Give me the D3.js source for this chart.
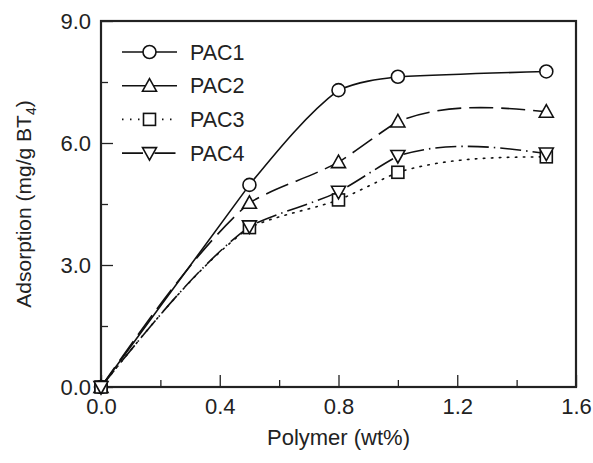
<!DOCTYPE html>
<html>
<head>
<meta charset="utf-8">
<script src="https://cdn.jsdelivr.net/npm/d3@7"></script>
<style>
  body { margin: 0; background: #fff; }
  text { font-family: "Liberation Sans", Arial, sans-serif; fill: #222; }
</style>
</head>
<body>
<div id="chart"></div>
<script>
var polymer = [0, 0.5, 0.8, 1.0, 1.5];
var pac1 = [0, 4.97, 7.3, 7.63, 7.76];
var pac2 = [0, 4.53, 5.53, 6.53, 6.77];
var pac3 = [0, 3.92, 4.6, 5.28, 5.66];
var pac4 = [0, 3.95, 4.8, 5.68, 5.74];
var names = ["PAC1", "PAC2", "PAC3", "PAC4"];
var xTicks = [0, 0.4, 0.8, 1.2, 1.6];
var yTicks = [0, 3, 6, 9];

var margin = {top: 21, right: 17, bottom: 76, left: 101},
  width = 593 - margin.left - margin.right,
  height = 463 - margin.top - margin.bottom;

var svg = d3.select("#chart")
.append("svg")
  .attr("width", 593)
  .attr("height", 463)
.append("g")
  .attr("transform", "translate(" + margin.left + "," + margin.top + ")");

var x = d3.scaleLinear().domain([0, 1.6]).range([0, width]);
var y = d3.scaleLinear().domain([0, 9]).range([height, 0]);

// natural cubic spline of y over x, curvature softened a bit (k)
function SplineX(context, k) { this._context = context; this._k = k; }
SplineX.prototype = {
  areaStart: function() { this._line = 0; },
  areaEnd: function() { this._line = NaN; },
  lineStart: function() { this._x = []; this._y = []; },
  point: function(px, py) { this._x.push(+px); this._y.push(+py); },
  lineEnd: function() {
    var X = this._x, Y = this._y, n = X.length - 1, c = this._context, k = this._k;
    if (n < 0) return;
    c.moveTo(X[0], Y[0]);
    if (n < 2) { if (n == 1) c.lineTo(X[1], Y[1]); return; }
    var h = [], M = new Array(n + 1).fill(0), i;
    for (i = 0; i < n; i++) h[i] = X[i + 1] - X[i];
    var a = [], b = [], cc = [], r = [];
    for (i = 1; i < n; i++) {
      a[i] = h[i - 1]; b[i] = 2 * (h[i - 1] + h[i]); cc[i] = h[i];
      r[i] = 6 * ((Y[i + 1] - Y[i]) / h[i] - (Y[i] - Y[i - 1]) / h[i - 1]);
    }
    for (i = 2; i < n; i++) {
      var m = a[i] / b[i - 1];
      b[i] -= m * cc[i - 1];
      r[i] -= m * r[i - 1];
    }
    M[n - 1] = r[n - 1] / b[n - 1];
    for (i = n - 2; i >= 1; i--) M[i] = (r[i] - cc[i] * M[i + 1]) / b[i];
    for (i = 0; i < n; i++) {
      var s = (Y[i + 1] - Y[i]) / h[i];
      var d0 = s - k * h[i] * (2 * M[i] + M[i + 1]) / 6;
      var d1 = s + k * h[i] * (M[i] + 2 * M[i + 1]) / 6;
      c.bezierCurveTo(X[i] + h[i] / 3, Y[i] + d0 * h[i] / 3,
                      X[i + 1] - h[i] / 3, Y[i + 1] - d1 * h[i] / 3,
                      X[i + 1], Y[i + 1]);
    }
  }
};
function curveSplineX(context) { return new SplineX(context, 0.62); }

// minor ticks first, then major with labels
svg.append("g")
  .attr("transform", "translate(0," + height + ")")
  .call(d3.axisBottom(x).tickValues(d3.range(0.2, 1.6, 0.4)).tickSize(-7).tickFormat(""));
svg.append("g")
  .call(d3.axisLeft(y).tickValues([1.5, 4.5, 7.5]).tickSize(-7).tickFormat(""));

var xa = svg.append("g")
  .attr("transform", "translate(0," + height + ")")
  .call(d3.axisBottom(x).tickValues(xTicks).tickSize(-12).tickPadding(8).tickFormat(d3.format(".1f")));
var ya = svg.append("g")
  .call(d3.axisLeft(y).tickValues(yTicks).tickSize(-12).tickPadding(10).tickFormat(d3.format(".1f")));

svg.selectAll(".domain").remove();
svg.selectAll(".tick line").attr("stroke", "#222").attr("stroke-width", 1.3);
svg.selectAll(".tick text").style("font-size", "22px").attr("fill", "#222");
xa.selectAll(".tick text").attr("dy", "0.85em");

svg.append("rect")
  .attr("width", width).attr("height", height)
  .attr("fill", "none").attr("stroke", "#222").attr("stroke-width", 2.2);

var series = [pac1, pac2, pac3, pac4];
var dashes = ["none", "24,8", "1.5,6.5", "21,5,1.5,5"];
var line = d3.line()
  .x(function(d) { return x(d[0]); })
  .y(function(d) { return y(d[1]); })
  .curve(curveSplineX);

series.forEach(function(s, i) {
  var pts = polymer.map(function(p, j) { return [p, s[j]]; });
  svg.append("path")
    .attr("d", line(pts))
    .attr("fill", "none")
    .attr("stroke", "#111")
    .attr("stroke-width", 1.6)
    .attr("stroke-dasharray", dashes[i])
    .attr("stroke-linecap", i == 2 ? "round" : "butt");
});

function marker(g, i, cx, cy) {
  var m;
  if (i == 0) {
    m = g.append("circle").attr("cx", cx).attr("cy", cy).attr("r", 6.5);
  } else if (i == 1) {
    m = g.append("path").attr("d", "M" + cx + "," + (cy - 7) + "L" + (cx + 7) + "," + (cy + 5.5) + "L" + (cx - 7) + "," + (cy + 5.5) + "Z");
  } else if (i == 2) {
    m = g.append("rect").attr("x", cx - 6).attr("y", cy - 6).attr("width", 12).attr("height", 12);
  } else {
    m = g.append("path").attr("d", "M" + cx + "," + (cy + 7) + "L" + (cx + 7) + "," + (cy - 5.5) + "L" + (cx - 7) + "," + (cy - 5.5) + "Z");
  }
  m.attr("fill", "#fff").attr("stroke", "#111").attr("stroke-width", 1.6);
}

series.forEach(function(s, i) {
  polymer.forEach(function(p, j) { marker(svg, i, x(p), y(s[j])); });
});

// legend
var leg = svg.append("g").attr("transform", "translate(21,31)");
names.forEach(function(n, i) {
  var ly = i * 33.7;
  leg.append("line")
    .attr("x1", 0).attr("x2", 55).attr("y1", ly).attr("y2", ly)
    .attr("stroke", "#111").attr("stroke-width", 1.6)
    .attr("stroke-dasharray", dashes[i]);
  marker(leg, i, 27.5, ly);
  leg.append("text")
    .attr("x", 68).attr("y", ly).attr("dy", "0.36em")
    .style("font-size", "21.5px")
    .text(n);
});

// axis titles
svg.append("text")
  .attr("x", width / 2).attr("y", height + 58)
  .attr("text-anchor", "middle")
  .style("font-size", "22px")
  .text("Polymer (wt%)");

var yt = svg.append("text")
  .attr("transform", "translate(-70," + (height / 2) + ") rotate(-90)")
  .attr("text-anchor", "middle")
  .style("font-size", "21px");
yt.append("tspan").text("Adsorption (mg/g BT");
yt.append("tspan").attr("dy", 5).style("font-size", "14px").text("4");
yt.append("tspan").attr("dy", -5).text(")");
</script>
</body>
</html>
